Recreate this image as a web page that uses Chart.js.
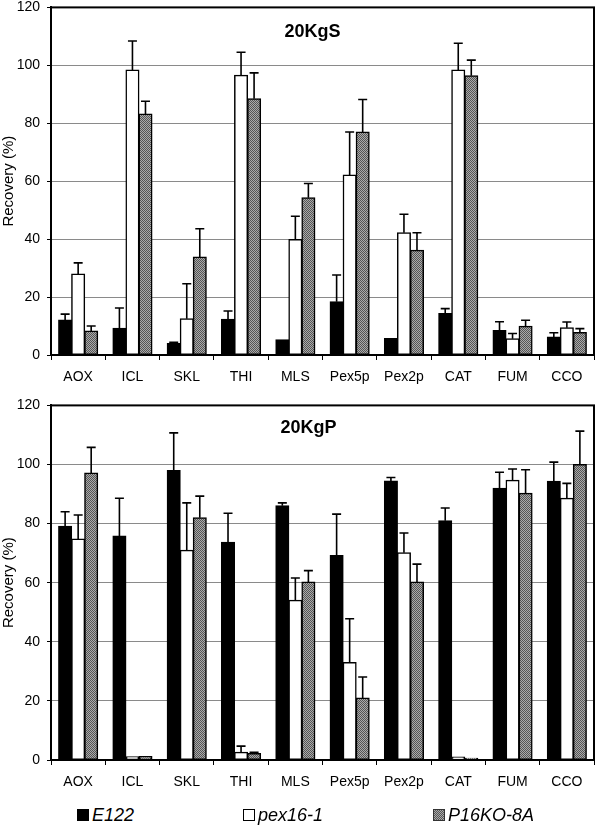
<!DOCTYPE html>
<html>
<head>
<meta charset="utf-8">
<script src="https://cdn.jsdelivr.net/npm/chart.js@4.4.1/dist/chart.umd.min.js"></script>
<style>
  body { margin: 0; background: #fff; font-family: "Liberation Sans", Arial, sans-serif; }
  #wrap { position: relative; width: 601px; height: 827px; overflow: hidden; }
  canvas { position: absolute; left: 0; }
  #topChart { top: -8px; }
  #bottomChart { top: 390px; }
  .leg { position: absolute; top: 803px; font-style: italic; font-size: 18px; line-height: 24px; height: 24px; }
  .sw { position: absolute; top: 6px; width: 12px; height: 12px; box-sizing: border-box; }
</style>
</head>
<body>
<div id="wrap">
  <canvas id="topChart" width="601" height="403"></canvas>
  <canvas id="bottomChart" width="601" height="405"></canvas>
  <div id="legend"></div>
</div>
<script>
// categories and series
const categories = ['AOX', 'ICL', 'SKL', 'THI', 'MLS', 'Pex5p', 'Pex2p', 'CAT', 'FUM', 'CCO'];
const seriesNames = ['E122', 'pex16-1', 'P16KO-8A'];
const yTicks = [0, 20, 40, 60, 80, 100, 120];

// 20KgS panel
const kgsE122 = [12.1, 9.2, 4.0, 12.3, 5.3, 18.4, 5.7, 14.3, 8.5, 6.2];
const kgsPex16 = [28.0, 98.4, 12.5, 96.6, 39.9, 62.1, 42.2, 98.4, 5.6, 9.4];
const kgsP16KO = [8.3, 83.2, 33.8, 88.5, 54.3, 77.0, 36.2, 96.4, 9.9, 7.8];
const kgsE122Err = [2.0, 7.0, 0.4, 2.9, 0, 9.2, 0, 1.7, 3.0, 1.5];
const kgsPex16Err = [3.8, 10.0, 12.1, 7.9, 8.0, 14.9, 6.4, 9.2, 1.8, 2.0];
const kgsP16KOErr = [1.7, 4.4, 9.8, 8.9, 4.9, 11.2, 6.0, 5.4, 2.1, 1.3];

// 20KgP panel
const kgpE122 = [79.1, 75.8, 98.0, 73.7, 86.0, 69.2, 94.4, 81.0, 92.0, 94.3];
const kgpPex16 = [74.8, 1.1, 71.0, 2.6, 54.1, 33.0, 70.1, 1.0, 94.7, 88.6];
const kgpP16KO = [97.1, 1.2, 82.0, 2.2, 60.2, 21.0, 60.2, 0.6, 90.3, 100.0];
const kgpE122Err = [4.9, 12.8, 12.7, 9.8, 1.0, 14.0, 1.2, 4.3, 5.4, 6.5];
const kgpPex16Err = [8.1, 0, 16.0, 2.1, 7.5, 14.8, 6.7, 0, 3.8, 5.0];
const kgpP16KOErr = [8.7, 0, 7.3, 0.4, 3.9, 7.1, 6.1, 0, 7.9, 11.3];

Chart.defaults.font.family = '"Liberation Sans", Arial, sans-serif';
Chart.defaults.color = '#000';

// dithered grey fill like the print
function makeDither() {
    const c = document.createElement('canvas');
    c.width = 2; c.height = 2;
    const g = c.getContext('2d');
    g.fillStyle = '#aaaaaa'; g.fillRect(0, 0, 2, 2);
    g.fillStyle = '#555555'; g.fillRect(0, 0, 1, 1); g.fillRect(1, 1, 1, 1);
    return g.createPattern(c, 'repeat');
}
const dither = makeDither();
const fills = ['#000000', '#ffffff', dither];

// error bars (upper only), box and panel title
const panelPlugin = {
    id: 'panel',
    afterDatasetsDraw(chart, args, opts) {
        const ctx = chart.ctx;
        const y = chart.scales.y;
        ctx.save();
        ctx.strokeStyle = '#000';
        ctx.lineWidth = 1.6;
        chart.data.datasets.forEach((ds, d) => {
            const meta = chart.getDatasetMeta(d);
            meta.data.forEach((bar, i) => {
                const err = ds.errors[i];
                if (!err) return;
                const y0 = y.getPixelForValue(ds.data[i]);
                const y1 = y.getPixelForValue(ds.data[i] + err);
                ctx.beginPath();
                ctx.moveTo(bar.x, y0);
                ctx.lineTo(bar.x, y1);
                ctx.moveTo(bar.x - 4.5, y1);
                ctx.lineTo(bar.x + 4.5, y1);
                ctx.stroke();
            });
        });
        ctx.restore();
    },
    afterDraw(chart, args, opts) {
        const ctx = chart.ctx;
        const a = chart.chartArea;
        ctx.save();
        ctx.strokeStyle = '#000';
        ctx.lineWidth = 2;
        ctx.strokeRect(a.left, a.top, a.right - a.left, a.bottom - a.top);
        ctx.font = 'bold 18px "Liberation Sans", Arial, sans-serif';
        ctx.fillStyle = '#000';
        ctx.textAlign = 'center';
        ctx.textBaseline = 'middle';
        ctx.fillText(opts.text, (a.left + a.right) / 2 + opts.dx, a.top + opts.dy);
        ctx.restore();
    }
};

function makeChart(id, title, series, errors, padTop, xHeight, titleDx, titleDy) {
    return new Chart(document.getElementById(id), {
        type: 'bar',
        data: {
            labels: categories,
            datasets: series.map((vals, k) => ({
                label: seriesNames[k],
                data: vals,
                errors: errors[k],
                backgroundColor: fills[k],
                borderColor: '#000',
                borderWidth: 1.5,
                borderSkipped: false,
                inflateAmount: 0.5,
                categoryPercentage: 0.72,
                barPercentage: 1.0
            }))
        },
        options: {
            responsive: false,
            animation: false,
            layout: { padding: { top: padTop, right: 7, left: 0, bottom: 0 } },
            plugins: {
                legend: { display: false },
                tooltip: { enabled: false },
                panel: { text: title, dx: titleDx, dy: titleDy }
            },
            scales: {
                x: {
                    grid: {
                        offset: true,
                        drawOnChartArea: false,
                        drawTicks: true,
                        tickLength: 5,
                        color: '#000',
                        lineWidth: 1
                    },
                    border: { color: '#000', width: 2 },
                    ticks: { font: { size: 14 }, padding: 9, maxRotation: 0, autoSkip: false },
                    afterFit: s => { s.height = xHeight; }
                },
                y: {
                    min: 0,
                    max: 120,
                    afterBuildTicks: s => { s.ticks = yTicks.map(v => ({ value: v })); },
                    grid: {
                        color: c => (c.tick && (c.tick.value === 0 || c.tick.value === 120)) ? 'rgba(0,0,0,0)' : '#8a8a8a',
                        tickColor: '#000',
                        tickLength: 4,
                        lineWidth: 1
                    },
                    border: { color: '#000', width: 2 },
                    ticks: { font: { size: 14 }, padding: 7 },
                    title: { display: true, text: 'Recovery (%)', font: { size: 15 }, padding: 0 },
                    afterFit: s => { s.width = 51; }
                }
            }
        },
        plugins: [panelPlugin]
    });
}

makeChart('topChart', '20KgS',
    [kgsE122, kgsPex16, kgsP16KO],
    [kgsE122Err, kgsPex16Err, kgsP16KOErr],
    0, 40, -10, 25);

makeChart('bottomChart', '20KgP',
    [kgpE122, kgpPex16, kgpP16KO],
    [kgpE122Err, kgpPex16Err, kgpP16KOErr],
    3, 35, -14, 23);

// legend
const legendX = [77, 243, 433];
const legend = document.getElementById('legend');
seriesNames.forEach((name, k) => {
    const item = document.createElement('div');
    item.className = 'leg';
    item.style.left = legendX[k] + 'px';
    const sw = document.createElement('span');
    sw.className = 'sw';
    sw.style.left = '0px';
    if (k === 0) sw.style.background = '#000';
    if (k === 1) { sw.style.background = '#fff'; sw.style.border = '1.5px solid #000'; }
    if (k === 2) {
        sw.style.background = 'repeating-conic-gradient(#555555 0 25%, #aaaaaa 0 50%) 0 0 / 2px 2px';
        sw.style.border = '1px solid #333';
    }
    const txt = document.createElement('span');
    txt.style.marginLeft = '15px';
    txt.textContent = name;
    item.appendChild(sw);
    item.appendChild(txt);
    legend.appendChild(item);
});
</script>
</body>
</html>
